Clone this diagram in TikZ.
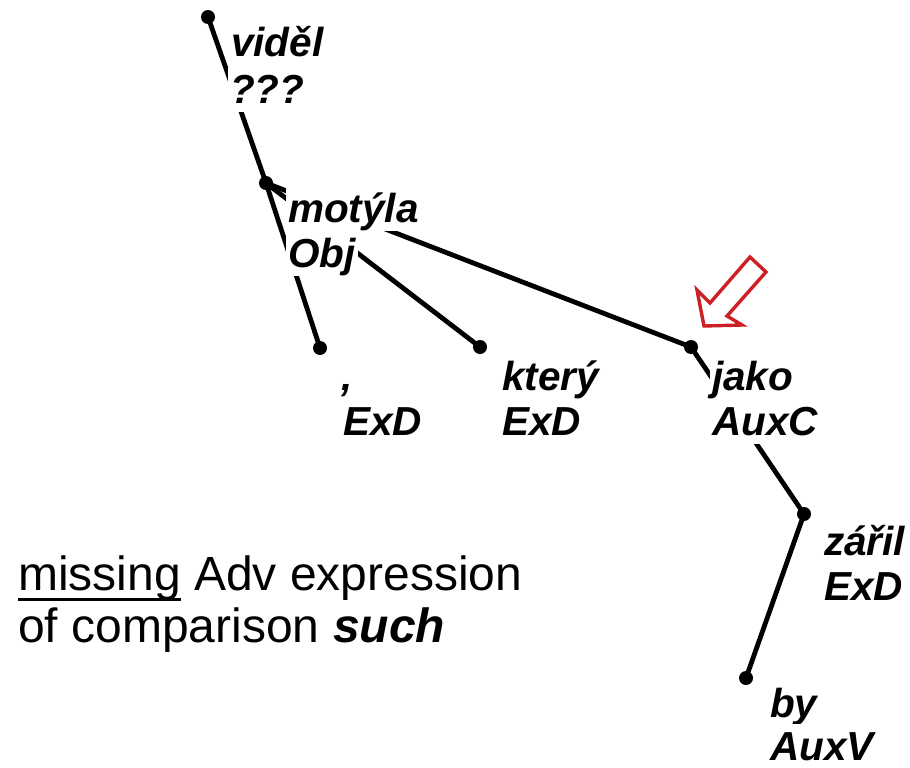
\documentclass[tikz,border=0pt]{standalone}
\usepackage{fontspec}
\setmainfont{Liberation Sans}
\definecolor{arrowred}{HTML}{CC1F26}
\newcommand\myulword[1]{\setbox0\hbox{#1}\rlap{\rule[-11pt]{\wd0}{2.6pt}}#1}
\begin{document}
\begin{tikzpicture}[x=1pt,y=-1pt,
  dot/.style={circle,fill=black,inner sep=0pt,minimum size=14pt},
  edge/.style={line width=4.8pt},
  lab/.style={fill=white,anchor=base west,inner xsep=2pt,inner ysep=0pt,
    text height=36pt,text depth=9pt,
    font=\fontsize{40.5}{45}\selectfont\bfseries\itshape},
  note/.style={anchor=base west,inner sep=0pt,font=\fontsize{48}{53}\selectfont},
  hollowarrow/.style={draw=arrowred,line width=3.4pt,line join=miter,fill=white}]
\useasboundingbox (0,0) rectangle (910,768);
% dots
\node[dot] (videl) at (208,17) {};
\node[dot] (motyla) at (266,183) {};
\node[dot] (comma) at (320,348) {};
\node[dot] (ktery) at (480,347) {};
\node[dot] (jako) at (691,347) {};
\node[dot] (zaril) at (804,514) {};
\node[dot] (by) at (746,678) {};
% edges
\draw[edge] (videl.center) -- (motyla.center);
\draw[edge] (motyla.center) -- (comma.center);
\draw[edge] (motyla.center) -- (ktery.center);
\draw[edge] (motyla.center) -- (jako.center);
\draw[edge] (jako.center) -- (zaril.center);
\draw[edge] (zaril.center) -- (by.center);
% labels
\node[lab] (videl-f) at (229,57) {viděl};
\node[lab] (videl-a) at (228,103) {???};
\node[lab] (motyla-f) at (286,222) {motýla};
\node[lab] (motyla-a) at (286,267) {Obj};
\node[lab] (comma-f) at (339,390) {,};
\node[lab] (comma-a) at (341,435) {ExD};
\node[lab] (ktery-f) at (500,390) {který};
\node[lab] (ktery-a) at (500,435) {ExD};
\node[lab] (jako-f) at (710,390) {jako};
\node[lab] (jako-a) at (710,435) {AuxC};
\node[lab] (zaril-f) at (822,555) {zářil};
\node[lab] (zaril-a) at (822,600) {ExD};
\node[lab] (by-f) at (768,717) {by};
\node[lab] (by-a) at (768,760) {AuxV};
% red hollow arrow
\draw[hollowarrow] (704,326) -- (697,290) -- (710,303) -- (750,257) -- (766,272)
  -- (727,316) -- (742,325) -- cycle;
% note
\node[note] (note1) at (18,590) {\myulword{missing} Adv expression};
\node[note] (note2) at (18,642) {of comparison \textbf{\textit{such}}};
\end{tikzpicture}
\end{document}
